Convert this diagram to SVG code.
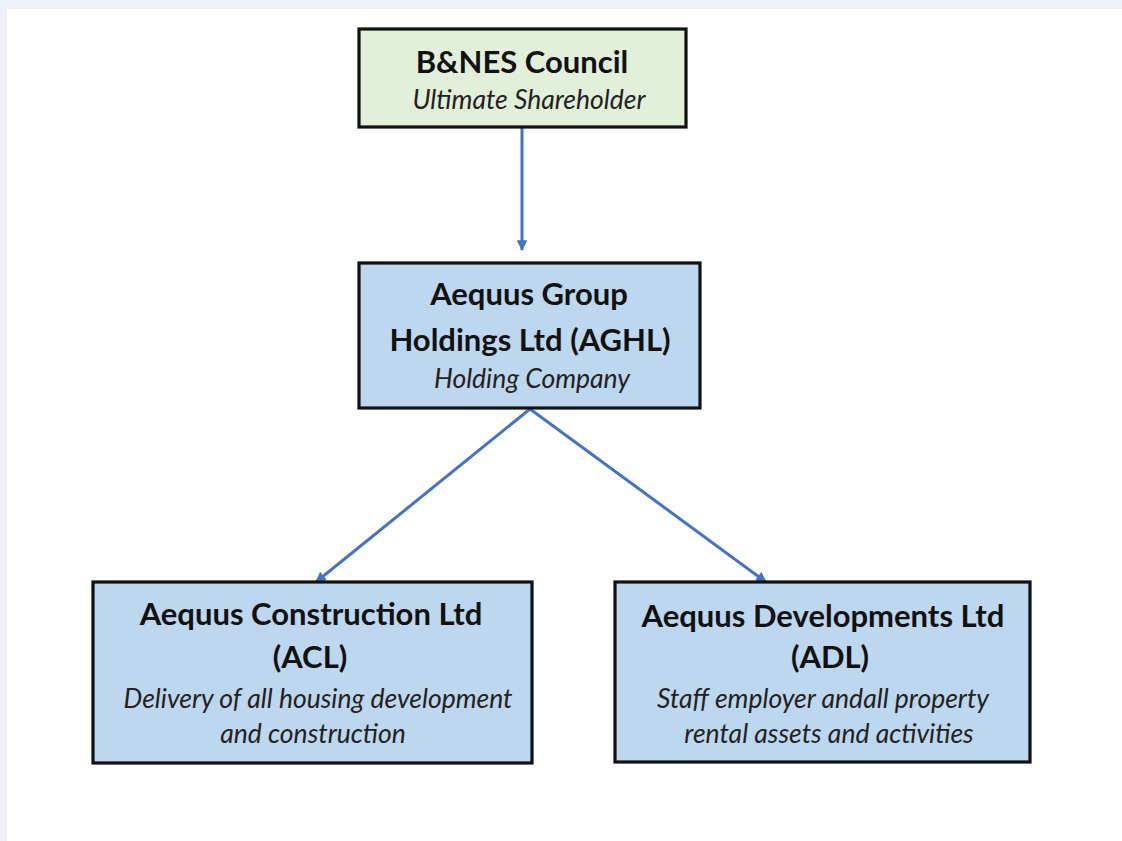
<svg xmlns="http://www.w3.org/2000/svg" width="1122" height="841" viewBox="0 0 1122 841">
<defs>
<style>
.box{stroke:#111;stroke-width:3.2}
.green{fill:#e2efd9}
.blue{fill:#bdd7ee}
.b{font-family:Lato,"Open Sans",sans-serif;font-weight:bold;font-size:31px;fill:#111;text-anchor:middle}
.i{font-family:Lato,"Open Sans",sans-serif;font-style:italic;font-size:26.5px;fill:#222;text-anchor:middle}
.conn{stroke:#4472c4;stroke-width:3;fill:none}
</style>
<marker id="ah" viewBox="0 0 10 10" refX="9" refY="5" markerWidth="3.6" markerHeight="3.6" orient="auto" markerUnits="strokeWidth">
<path d="M0,0 L10,5 L0,10 z" fill="#4472c4"/>
</marker>
</defs>
<rect x="0" y="0" width="1122" height="841" fill="#eef1f6"/>
<rect x="7" y="9" width="1115" height="832" fill="#ffffff"/>
<g id="connectors">
<line class="conn" x1="522" y1="128" x2="522" y2="250" marker-end="url(#ah)"/>
<line class="conn" x1="530" y1="409" x2="316" y2="582" marker-end="url(#ah)"/>
<line class="conn" x1="530" y1="409" x2="766" y2="582" marker-end="url(#ah)"/>
</g>
<g id="banes">
<rect class="box green" x="359" y="29" width="327" height="98"/>
<text class="b" x="522" y="73">B&amp;NES Council</text>
<text class="i" x="529" y="109">Ultimate Shareholder</text>
</g>
<g id="aghl">
<rect class="box blue" x="359" y="263" width="341" height="145"/>
<text class="b" x="529" y="305">Aequus Group</text>
<text class="b" x="530" y="351">Holdings Ltd (AGHL)</text>
<text class="i" x="532" y="388">Holding Company</text>
</g>
<g id="acl">
<rect class="box blue" x="93" y="582" width="439" height="181"/>
<text class="b" x="311" y="625">Aequus Construction Ltd</text>
<text class="b" x="310" y="668">(ACL)</text>
<text class="i" x="318" y="708">Delivery of all housing development</text>
<text class="i" x="313" y="743">and construction</text>
</g>
<g id="adl">
<rect class="box blue" x="615" y="582" width="415" height="180"/>
<text class="b" x="823" y="627">Aequus Developments Ltd</text>
<text class="b" x="830" y="668">(ADL)</text>
<text class="i" x="823" y="708">Staff employer andall property</text>
<text class="i" x="829" y="743">rental assets and activities</text>
</g>
</svg>
